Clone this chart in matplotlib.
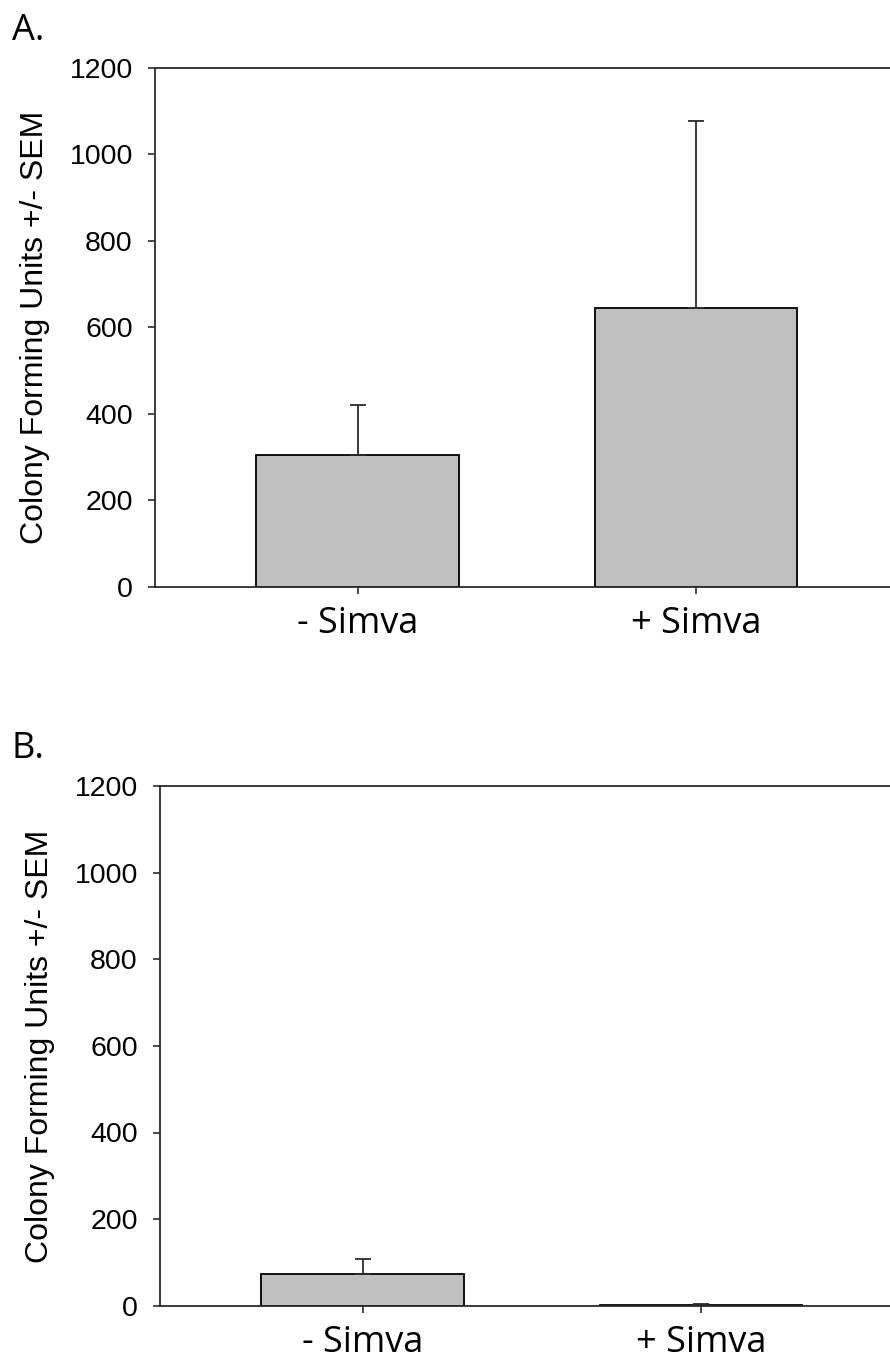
import matplotlib.pyplot as plt

# panel data
groups = ["- Simva", "+ Simva"]
cfu_a = [305, 645]
sem_a = [116, 432]
cfu_b = [74, 2]
sem_b = [34, 3]
yticks = [0, 200, 400, 600, 800, 1000, 1200]

BAR_COLOR = "#c0c0c0"
LINE_COLOR = "#2b2b2b"

fig = plt.figure(figsize=(8.9, 13.59), dpi=100)

panels = [
    ("A.", cfu_a, sem_a, [0.1742, 0.5683, 0.8258, 0.3819], (-0.6, 1.574), -0.143),
    ("B.", cfu_b, sem_b, [0.1798, 0.0392, 0.8202, 0.3824], (-0.6, 1.559), -0.144),
]

for letter, values, errs, pos, xlim, label_x in panels:
    ax = fig.add_axes(pos)
    x = range(len(groups))
    ax.bar(
        x, values, width=0.6, color=BAR_COLOR, edgecolor="black", linewidth=1.3,
        zorder=2,
    )
    ax.errorbar(
        x, values, yerr=[[0] * len(errs), errs], fmt="none", ecolor=LINE_COLOR,
        elinewidth=1.3, capsize=5.5, capthick=1.3, zorder=3,
    )
    ax.set_xlim(*xlim)
    ax.set_ylim(0, 1200)
    ax.set_yticks(yticks)
    ax.set_xticks(list(x))
    ax.set_xticklabels(groups, fontsize=26, family=["Open Sans", "DejaVu Sans"])
    for lab in ax.get_yticklabels():
        lab.set_fontsize(20.5)
        lab.set_family("Liberation Sans")
    ax.tick_params(axis="y", length=5, width=1.2, pad=11, color=LINE_COLOR)
    ax.tick_params(axis="x", length=5, width=1.2, pad=9, color=LINE_COLOR)
    ax.spines["right"].set_visible(False)
    for s in ("left", "top", "bottom"):
        ax.spines[s].set_linewidth(1.3)
        ax.spines[s].set_color(LINE_COLOR)
    ax.set_ylabel(
        "Colony Forming Units +/- SEM", fontsize=23, family="Liberation Sans"
    )
    ax.yaxis.set_label_coords(label_x, 0.5)
    top = pos[1] + pos[3]
    fig.text(
        0.013, top + 0.027, letter, fontsize=26, family=["Open Sans", "DejaVu Sans"],
        va="center", ha="left",
    )

fig.savefig("out.png", dpi=100)
